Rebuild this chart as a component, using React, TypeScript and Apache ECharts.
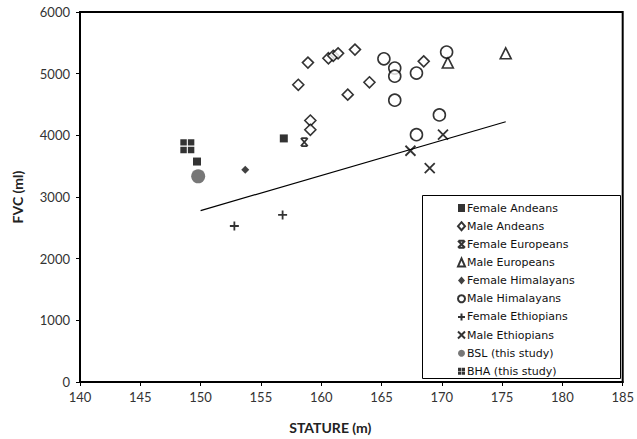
import React, { useEffect, useRef } from "react";
import * as echarts from "echarts";

const xTicks = [140, 145, 150, 155, 160, 165, 170, 175, 180, 185];
const yTicks = [0, 1000, 2000, 3000, 4000, 5000, 6000];

const femaleAndeans: number[][] = [[156.9, 3950], [149.7, 3575]];
const maleAndeans: number[][] = [
  [158.1, 4820], [158.9, 5180], [159.1, 4240], [159.1, 4090], [160.6, 5250],
  [161.0, 5290], [161.4, 5330], [162.8, 5390], [162.2, 4660], [164.0, 4860], [168.5, 5200],
];
const femaleEuropeans: number[][] = [[158.6, 3890]];
const maleEuropeans: number[][] = [[170.5, 5180], [175.3, 5330]];
const femaleHimalayans: number[][] = [[153.7, 3440]];
const maleHimalayans: number[][] = [
  [165.2, 5240], [166.1, 5090], [166.1, 4960], [167.9, 5010], [170.4, 5350],
  [166.1, 4570], [169.8, 4330], [167.9, 4010],
];
const femaleEthiopians: number[][] = [[152.8, 2530], [156.8, 2710]];
const maleEthiopians: number[][] = [[167.4, 3750], [170.1, 4010], [169.0, 3470]];
const bsl: number[][] = [[149.8, 3335]];
const bha: number[][] = [[148.9, 3825]];
const trendLine: number[][] = [[150.0, 2780], [175.3, 4220]];

const names = [
  "Female Andeans", "Male Andeans", "Female Europeans", "Male Europeans",
  "Female Himalayans", "Male Himalayans", "Female Ethiopians", "Male Ethiopians",
  "BSL (this study)", "BHA (this study)",
];

const STAR = "path://M0,0L10,10M10,0L0,10M1,0H9M1,10H9";
const PLUS = "path://M5,0V10M0,5H10";
const CROSS = "path://M0,0L10,10M10,0L0,10";
const GRID = "path://M0,0H6V6H0ZM7,0H13V6H7ZM0,7H6V13H0ZM7,7H13V13H7Z";

export default function App() {
  const ref = useRef<HTMLDivElement>(null);
  useEffect(() => {
    if (!ref.current) return;
    const chart = echarts.init(ref.current, undefined, { renderer: "svg" });
    const open = (w: number) => ({ color: "#fff", borderColor: "#000", borderWidth: w });
    const line = (w: number) => ({ color: "transparent", borderColor: "#000", borderWidth: w });
    const sc = (name: string, data: number[][], symbol: string, size: any, itemStyle: any) => ({
      type: "scatter", name, data, symbol, symbolSize: size, itemStyle, z: 3,
      emphasis: { disabled: true },
    });
    chart.setOption({
      animation: false,
      grid: {
        left: 80, right: 13, top: 12, bottom: 55,
        show: true, borderColor: "#000", borderWidth: 2,
      },
      xAxis: {
        type: "value", min: xTicks[0], max: xTicks[xTicks.length - 1], interval: 5,
        name: "STATURE (m)", nameLocation: "middle", nameGap: 38,
        nameTextStyle: {
          fontFamily: "Lato", fontWeight: "bold", fontSize: 14, color: "#222",
          padding: [0, 42, 0, 0],
        },
        axisLine: { show: true, lineStyle: { color: "#000", width: 2 } },
        axisTick: { show: true, length: 4, lineStyle: { color: "#000" } },
        axisLabel: { fontFamily: "Lato", fontSize: 13, color: "#333", margin: 8 },
        splitLine: { show: false },
      },
      yAxis: {
        type: "value", min: yTicks[0], max: yTicks[yTicks.length - 1], interval: 1000,
        name: "FVC (ml)", nameLocation: "middle", nameGap: 56,
        nameTextStyle: { fontFamily: "Lato", fontWeight: "bold", fontSize: 14, color: "#222" },
        axisLine: { show: true, lineStyle: { color: "#000", width: 2 } },
        axisTick: { show: true, length: 4, lineStyle: { color: "#000" } },
        axisLabel: {
          fontFamily: "Lato", fontSize: 13, color: "#333", margin: 10,
          formatter: (v: number) => String(v),
        },
        splitLine: { show: false },
      },
      legend: {
        orient: "vertical", left: 452, top: 196,
        itemWidth: 7, itemHeight: 8, itemGap: 4.15,
        textStyle: {
          fontFamily: "DejaVu Sans", fontSize: 11, color: "#111", lineHeight: 14,
          padding: [0, 0, 0, -3],
        },
        data: names,
      },
      graphic: [
        {
          type: "rect", left: 422, top: 195, z: 0,
          shape: { width: 198, height: 183 },
          style: { fill: "#fff", stroke: "#000", lineWidth: 1 },
        },
      ],
      series: [
        {
          type: "line", data: trendLine, symbol: "none", z: 2,
          lineStyle: { color: "#000", width: 1.2 }, silent: true,
        },
        sc(names[0], femaleAndeans, "rect", 8, { color: "#000" }),
        sc(names[1], maleAndeans, "diamond", 11, open(1.6)),
        sc(names[2], femaleEuropeans, STAR, [7, 8], line(1.8)),
        sc(names[3], maleEuropeans, "triangle", 11, open(1.6)),
        sc(names[4], femaleHimalayans, "diamond", 8, { color: "#111" }),
        sc(names[5], maleHimalayans, "circle", 12, open(1.6)),
        sc(names[6], femaleEthiopians, PLUS, 9, line(1.8)),
        sc(names[7], maleEthiopians, CROSS, 10, line(1.8)),
        sc(names[8], bsl, "circle", 14, { color: "#555" }),
        sc(names[9], bha, GRID, 14, { color: "#000" }),
      ],
    });
    return () => chart.dispose();
  }, []);
  return <div ref={ref} style={{ width: 637, height: 439, position: "absolute", left: 0, top: 0 }} />;
}
